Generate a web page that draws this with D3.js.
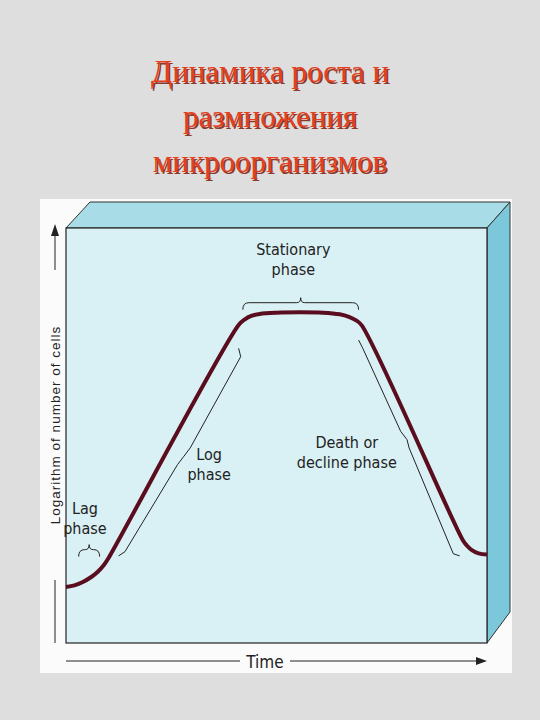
<!DOCTYPE html>
<html><head><meta charset="utf-8">
<script src="https://cdn.jsdelivr.net/npm/d3@7"></script>
<style>body{margin:0;background:#dedede}</style>
</head><body>
<svg width="540" height="720"></svg>
<script>
var titleLines = ["Динамика роста и", "размножения", "микроорганизмов"];
var curveT = [0, 2, 4, 6, 7.5, 9, 10, 41, 42.5, 44, 46, 50, 55.8, 61, 65, 67.2, 68.8, 70.2, 94.2, 95.2, 96.4, 98, 100];
var curveV = [13.5, 13.9, 14.7, 15.9, 17.1, 18.8, 20.3, 76.6, 78.0, 78.8, 79.3, 79.6, 79.7, 79.6, 79.2, 78.6, 77.8, 76.6, 24.9, 23.5, 22.4, 21.6, 21.3];
var phaseLabels = [
  {lines: ["Lag", "phase"], t: 4.5, v: 31},
  {lines: ["Stationary", "phase"], t: 54, v: 93.5},
  {lines: ["Log", "phase"], t: 34, v: 44},
  {lines: ["Death or", "decline phase"], t: 66.7, v: 47}
];

var svg = d3.select("svg");
var x = d3.scaleLinear().domain([0, 100]).range([66, 487]);
var y = d3.scaleLinear().domain([0, 100]).range([643, 228]);

// title with shadow
[[1.5, "#8a3a2a"], [0, "#e4401e"]].forEach(function(s) {
  svg.selectAll(null).data(titleLines).enter().append("text")
    .attr("x", 270 + s[0]).attr("y", function(d, i) { return 82 + s[0] + i * 45; })
    .attr("text-anchor", "middle")
    .style("font-family", "Liberation Serif, serif").style("font-size", "31px")
    .style("fill", s[1])
    .text(function(d) { return d; });
});

// panel
svg.append("rect").attr("x", 40).attr("y", 199).attr("width", 472).attr("height", 474).attr("fill", "#fbfbfb");
svg.append("path").attr("d", "M66,228 L90,202 L510,202 L487,228 Z").attr("fill", "#a8dce6").attr("stroke", "#333").attr("stroke-width", 1);
svg.append("path").attr("d", "M487,228 L510,202 L510,612 L487,643 Z").attr("fill", "#7cc8db").attr("stroke", "#333").attr("stroke-width", 1);
svg.append("rect").attr("x", 66).attr("y", 228).attr("width", 421).attr("height", 415).attr("fill", "#d9f0f4").attr("stroke", "#222").attr("stroke-width", 1.2);

// curve
var pts = curveT.map(function(t, i) { return [t, curveV[i]]; });
var line = d3.line().x(function(d) { return x(d[0]); }).y(function(d) { return y(d[1]); }).curve(d3.curveCatmullRom.alpha(0.5));
svg.append("path").datum(pts).attr("d", line).attr("fill", "none").attr("stroke", "#5a0d1e").attr("stroke-width", 4);

function hBrace(x0, x1, yy) {
  var m = (x0 + x1) / 2;
  return "M" + x0 + "," + (yy + 7) + " Q" + x0 + "," + yy + " " + (x0 + 6) + "," + yy +
    " L" + (m - 4) + "," + yy + " Q" + m + "," + yy + " " + m + "," + (yy - 5) +
    " Q" + m + "," + yy + " " + (m + 4) + "," + yy + " L" + (x1 - 6) + "," + yy +
    " Q" + x1 + "," + yy + " " + x1 + "," + (yy + 7);
}
svg.append("path").attr("d", hBrace(x(3), x(8), y(22.5))).attr("fill", "none").attr("stroke", "#222");
svg.append("path").attr("d", hBrace(x(42), x(69.5), y(82))).attr("fill", "none").attr("stroke", "#222");
svg.append("path").attr("d", "M" + x(12.5) + "," + y(21) + " L" + x(14) + "," + y(22) +
  " L" + x(26.5) + "," + y(43) + " L" + x(28) + "," + y(45) + " L" + x(29.5) + "," + y(47) +
  " L" + x(41.5) + "," + y(69) + " L" + x(41) + "," + y(71))
  .attr("fill", "none").attr("stroke", "#222");
svg.append("path").attr("d", "M" + x(69.5) + "," + y(73) + " L" + x(70.5) + "," + y(71) +
  " L" + x(79.5) + "," + y(51) + " L" + x(81) + "," + y(49) + " L" + x(81.5) + "," + y(47) +
  " L" + x(92) + "," + y(21.5) + " L" + x(93.5) + "," + y(21))
  .attr("fill", "none").attr("stroke", "#222");

phaseLabels.forEach(function(p) {
  svg.append("text").attr("text-anchor", "middle")
    .style("font-family", "DejaVu Sans Condensed, Liberation Sans Narrow, sans-serif").style("font-size", "16px").style("fill", "#222")
    .selectAll("tspan").data(p.lines).enter().append("tspan")
    .attr("x", x(p.t)).attr("y", function(d, i) { return y(p.v) + i * 20; })
    .text(function(d) { return d; });
});

// axes
svg.append("line").attr("x1", 66).attr("x2", 240).attr("y1", 661).attr("y2", 661).attr("stroke", "#222");
svg.append("line").attr("x1", 290).attr("x2", 480).attr("y1", 661).attr("y2", 661).attr("stroke", "#222");
svg.append("path").attr("d", "M487,661 L476,657 L476,665 Z").attr("fill", "#222");
svg.append("text").attr("x", 265).attr("y", 668).attr("text-anchor", "middle")
  .style("font-family", "DejaVu Sans Condensed, sans-serif").style("font-size", "17px").style("fill", "#222").text("Time");

svg.append("line").attr("x1", 55).attr("x2", 55).attr("y1", 643).attr("y2", 580).attr("stroke", "#222");
svg.append("line").attr("x1", 55).attr("x2", 55).attr("y1", 270).attr("y2", 232).attr("stroke", "#222");
svg.append("path").attr("d", "M55,224 L51,236 L59,236 Z").attr("fill", "#222");
svg.append("text").attr("transform", "translate(60,425) rotate(-90)").attr("text-anchor", "middle")
  .style("font-family", "Liberation Sans, sans-serif").style("font-size", "13.5px").style("letter-spacing", "1px").style("fill", "#222")
  .text("Logarithm of number of cells");
</script>
</body></html>
